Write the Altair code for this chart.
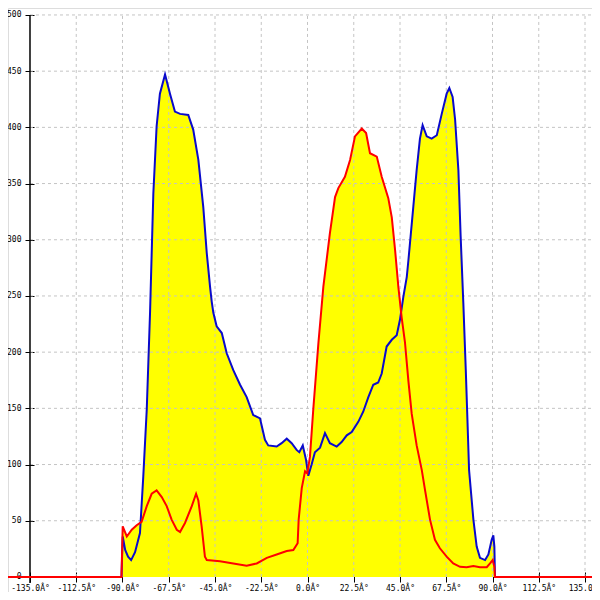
import altair as alt
import pandas as pd

# ---- data ----
blue_x = [-90.5, -89.9, -88.7, -87.3, -85.8, -83.9, -81.5, -79.9, -78.2, -76.6, -75.0, -73.4,
          -71.8, -69.3, -66.9, -64.5, -62.0, -58.0, -55.6, -53.1, -50.7, -49.0, -47.4, -46.6,
          -45.8, -44.2, -41.7, -39.3, -36.1, -32.8, -29.6, -26.4, -23.1, -20.7, -19.1, -15.0,
          -12.6, -10.1, -7.7, -5.3, -4.0, -2.3, -0.7, 0.4, 2.0, 3.6, 6.1, 8.5, 10.9, 14.2, 16.6,
          19.1, 21.5, 24.7, 27.1, 29.6, 32.0, 34.4, 36.1, 38.5, 41.0, 43.4, 45.0, 46.6, 48.3,
          49.1, 51.5, 53.1, 54.7, 56.0, 58.0, 60.4, 62.9, 65.3, 67.7, 69.0, 70.6, 71.8, 73.4,
          74.5, 75.8, 77.0, 77.8, 78.6, 80.7, 82.3, 83.9, 86.4, 88.0, 89.6, 90.4, 90.9, 91.2]
blue_y = [0, 36, 24, 18, 15, 22, 39, 89, 149, 235, 341, 401,
          430, 447, 430, 414, 412, 411, 398, 371, 329, 288, 258, 245,
          235, 223, 217, 199, 184, 171, 160, 144, 141, 122, 117, 116,
          119, 123, 119, 113, 111, 117, 104, 90, 100, 111, 115, 128, 119, 116, 120,
          126, 129, 138, 147, 160, 171, 173, 181, 205, 211, 215, 229, 249, 267,
          282, 330, 362, 390, 402, 392, 390, 393, 412, 430, 435, 427, 407, 362,
          303, 244, 184, 140, 95, 51, 27, 17, 15, 20, 33, 37, 27, 0]

red_x = [-150, -90.5, -89.9, -87.9, -85.5, -83.1, -80.7, -78.2, -75.8, -73.4, -70.9, -68.5,
         -66.1, -63.6, -62.0, -59.6, -56.3, -54.2, -53.1, -51.5, -49.9, -49.0, -42.6, -36.1,
         -29.6, -24.7, -19.8, -15.0, -10.1, -6.9, -4.8, -4.3, -2.8, -1.2, -0.1, 1.2, 2.8, 5.3,
         7.7, 10.9, 13.4, 15.0, 18.2, 20.7, 23.1, 26.4, 28.5, 30.4, 33.7, 36.1, 39.3, 41.0,
         42.6, 44.2, 45.8, 47.4, 49.1, 50.7, 53.1, 55.6, 57.2, 59.6, 62.0, 64.4, 67.7, 70.9,
         74.2, 77.4, 80.7, 83.9, 87.2, 88.8, 90.1, 90.9, 91.2, 150]
red_y = [0, 0, 45, 36, 42, 46, 49, 63, 74, 77, 71, 63,
         51, 42, 40, 48, 63, 74, 68, 45, 18, 15, 14, 12,
         10, 12, 17, 20, 23, 24, 30, 51, 79, 94, 92, 107, 149, 208,
         258, 306, 338, 346, 356, 371, 392, 399, 395, 377, 374, 356, 337, 320,
         291, 258, 231, 209, 174, 145, 117, 95, 77, 51, 33, 25.5, 18, 12,
         9, 8.6, 9.8, 8.6, 8.6, 12, 15, 9, 0, 0]

x_ticks = [-135, -112.5, -90, -67.5, -45, -22.5, 0, 22.5, 45, 67.5, 90, 112.5, 135]
y_ticks = [0, 50, 100, 150, 200, 250, 300, 350, 400, 450, 500]

X_DOMAIN = [-145.7, 138.4]
Y_DOMAIN = [-13.4, 506.2]

blue = pd.DataFrame({"x": blue_x, "y": blue_y})
red = pd.DataFrame({"x": red_x, "y": red_y})

xs = alt.Scale(domain=X_DOMAIN, nice=False, zero=False)
ys = alt.Scale(domain=Y_DOMAIN, nice=False, zero=False)

FONT = "DejaVu Sans Mono"

x_enc = alt.X("x:Q", scale=xs, axis=alt.Axis(
    values=x_ticks, orient="bottom", offset=-20, tickSize=10, tickColor="#000",
    domain=False, grid=False, title=None, labelFont=FONT, labelFontSize=8,
    labelColor="#000", labelPadding=2,
    labelExpr="(datum.value % 1 == 0 ? datum.value + '.0' : datum.value + '') + 'Â°'"))
y_enc = alt.Y("y:Q", scale=ys, axis=alt.Axis(
    values=y_ticks, orient="left", offset=-26, tickSize=9, tickColor="#000",
    domain=False, grid=False, title=None, labelFont=FONT, labelFontSize=8,
    labelColor="#000", labelPadding=4, format="d"))

area_blue = alt.Chart(blue).mark_area(color="#ffff00", clip=True).encode(
    x=x_enc, y=y_enc, y2=alt.datum(0))
area_red = alt.Chart(red).mark_area(color="#ffff00", clip=True).encode(
    x=alt.X("x:Q", scale=xs), y=alt.Y("y:Q", scale=ys), y2=alt.datum(0))

xgrid = pd.DataFrame({"x": x_ticks[1:], "y0": [0] * 12, "y1": [500] * 12})
ygrid = pd.DataFrame({"y": y_ticks[1:], "x0": [-135] * 10, "x1": [X_DOMAIN[1]] * 10})

grid_v = alt.Chart(xgrid).mark_rule(color="#c4c4c4", strokeDash=[3, 3], strokeWidth=1, clip=True).encode(
    x=alt.X("x:Q", scale=xs), y=alt.Y("y0:Q", scale=ys), y2="y1:Q")
grid_h = alt.Chart(ygrid).mark_rule(color="#c4c4c4", strokeDash=[3, 3], strokeWidth=1, clip=True).encode(
    y=alt.Y("y:Q", scale=ys), x=alt.X("x0:Q", scale=xs), x2="x1:Q")

yaxis_line = alt.Chart(pd.DataFrame({"x": [-135], "y0": [-5.3], "y1": [500]})).mark_rule(
    color="#000", strokeWidth=1.5).encode(
    x=alt.X("x:Q", scale=xs), y=alt.Y("y0:Q", scale=ys), y2="y1:Q")

line_blue = alt.Chart(blue).mark_line(color="#0a0acc", strokeWidth=2, clip=True).encode(
    x=alt.X("x:Q", scale=xs), y=alt.Y("y:Q", scale=ys))
line_red = alt.Chart(red).mark_line(color="#ff0000", strokeWidth=2, clip=True).encode(
    x=alt.X("x:Q", scale=xs), y=alt.Y("y:Q", scale=ys))

chart = alt.layer(area_blue, area_red, grid_v, grid_h, yaxis_line, line_blue, line_red).properties(
    width=584, height=584, padding=0,
    autosize=alt.AutoSizeParams(type="none"),
).configure_view(stroke="transparent", strokeWidth=0).configure(background="#ffffff")

chart.save("out.html", embed_options={"renderer": "svg", "actions": False})
